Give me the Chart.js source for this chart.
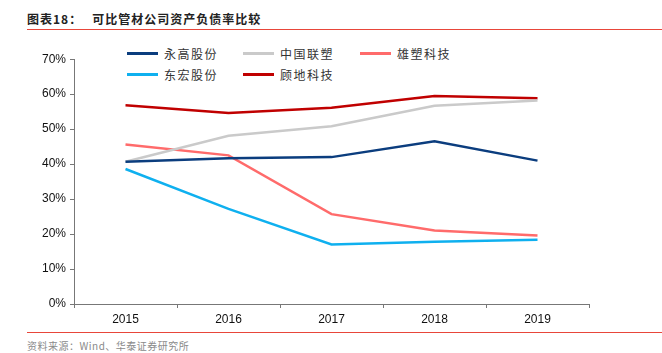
<!DOCTYPE html>
<html>
<head>
<meta charset="utf-8">
<script src="https://cdn.jsdelivr.net/npm/chart.js@4.4.0/dist/chart.umd.min.js"></script>
<style>
  body { margin:0; width:662px; height:353px; background:#fff; position:relative; overflow:hidden;
         font-family:"Noto Sans CJK SC", sans-serif; }
  #title { position:absolute; left:27px; top:10px; font-size:12px; font-weight:bold; color:#222; letter-spacing:1px; }
  #title span { margin-left:10px; }
  .rule { position:absolute; left:27px; right:0; height:1px; background:#e8463a; }
  #src { position:absolute; left:27px; top:338px; font-size:10px; color:#8a8a8a; letter-spacing:0.5px; }
  #legend { position:absolute; left:127px; top:43px; display:grid;
            grid-template-columns:116px 117px 120px; row-gap:1px; }
  .item { display:flex; align-items:center; height:20px; font-size:12px; color:#333; letter-spacing:1.5px; }
  .item i { display:inline-block; width:31px; height:3px; margin-right:6px; }
  #wrap { position:absolute; left:0; top:48px; width:600px; height:281px; }
</style>
</head>
<body>
<div id="title">图表18：<span>可比管材公司资产负债率比较</span></div>
<div class="rule" style="top:29px"></div>
<div id="legend"></div>
<div id="wrap"><canvas id="chart"></canvas></div>
<div class="rule" style="top:332px"></div>
<div id="src">资料来源：Wind、华泰证券研究所</div>
<script>
// Data
const years     = ["2015", "2016", "2017", "2018", "2019"];
const yonggao   = [40.7, 41.7, 42.0, 46.5, 41.0];
const liansu    = [40.7, 48.1, 50.8, 56.7, 58.2];
const xiongsu   = [45.6, 42.5, 25.7, 21.0, 19.6];
const donghong  = [38.6, 27.2, 17.0, 17.8, 18.4];
const gudi      = [56.8, 54.6, 56.1, 59.5, 58.8];

// legend order follows the reference grid (row by row)
const series = [
  { label: "永高股份", data: yonggao,  color: "#0b3d7e" },
  { label: "中国联塑", data: liansu,   color: "#cacaca" },
  { label: "雄塑科技", data: xiongsu,  color: "#ff6b6b" },
  { label: "东宏股份", data: donghong, color: "#0fb0ef" },
  { label: "顾地科技", data: gudi,     color: "#c00000" }
];

const ctx = document.getElementById("chart");
const chart = new Chart(ctx, {
  type: "line",
  data: {
    labels: years,
    datasets: series.map(s => ({
      label: s.label, data: s.data, borderColor: s.color, backgroundColor: s.color,
      borderWidth: 2.5, pointRadius: 0, tension: 0, fill: false
    }))
  },
  options: {
    responsive: true, maintainAspectRatio: false, animation: false,
    layout: { padding: { top: 9, right: 11, left: 0, bottom: 0 } },
    plugins: { legend: { display: false }, tooltip: { enabled: false } },
    scales: {
      x: {
        offset: true,
        grid: { offset: true, drawOnChartArea: false, drawTicks: true, tickLength: 4, color: "#777" },
        border: { color: "#777", width: 1 },
        ticks: { color: "#111", font: { family: "Liberation Sans, Arial", size: 12 }, padding: 4 },
        afterFit: s => { s.height = 25; }
      },
      y: {
        min: 0, max: 70,
        grid: { drawOnChartArea: false, drawTicks: true, tickLength: 4, color: "#777" },
        border: { color: "#777", width: 1 },
        ticks: { stepSize: 10, color: "#111", padding: 4,
                 font: { family: "Liberation Sans, Arial", size: 12 },
                 callback: v => v + "%" },
        afterFit: s => { s.width = 74; }
      }
    }
  }
});

// HTML legend from datasets
const legendEl = document.getElementById("legend");
series.forEach(s => {
  const d = document.createElement("div");
  d.className = "item";
  d.innerHTML = `<i style="background:${s.color}"></i>${s.label}`;
  legendEl.appendChild(d);
});
</script>
</body>
</html>
